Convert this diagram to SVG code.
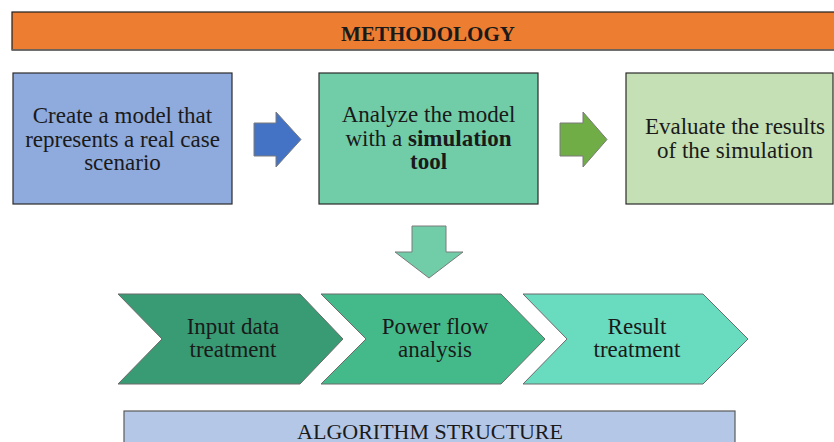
<svg xmlns="http://www.w3.org/2000/svg" width="834" height="442" viewBox="0 0 834 442">
  <style>
    text { font-family: "Liberation Serif", "DejaVu Serif", serif; font-size: 23px; fill: #1a1a1a; text-anchor: middle; }
    .b { font-weight: bold; }
    .box { stroke: #2b2b2b; stroke-width: 1.2; }
    .arr { stroke: #7a7a7a; stroke-width: 1; }
    .chev { stroke: #6b6b6b; stroke-width: 1; }
  </style>
  <rect width="834" height="442" fill="#ffffff"/>

  <!-- header bar -->
  <g id="methodology">
    <rect x="12" y="12" width="830" height="38" fill="#ED7D31" stroke="#1e1e1e" stroke-width="1.2"/>
    <line x1="12" y1="50" x2="834" y2="50" stroke="#6e6e6e" stroke-width="1.5"/>
    <text class="b" x="428" y="41" style="font-size:21px">METHODOLOGY</text>
  </g>

  <!-- step boxes -->
  <g id="create-model">
    <rect class="box" x="13" y="73" width="219" height="131" fill="#8FAADC"/>
    <text x="122.5" y="123">Create a model that</text>
    <text x="122.5" y="147">represents a real case</text>
    <text x="122.5" y="170">scenario</text>
  </g>

  <g id="analyze-model">
    <rect class="box" x="319" y="73" width="219" height="131" fill="#71CDA8"/>
    <text x="428.5" y="122">Analyze the model</text>
    <text x="428.5" y="146">with a <tspan class="b">simulation</tspan></text>
    <text class="b" x="428.5" y="169">tool</text>
  </g>

  <g id="evaluate-results">
    <rect class="box" x="626" y="73" width="207" height="131" fill="#C5E0B4"/>
    <text x="735" y="134">Evaluate the results</text>
    <text x="735" y="158">of the simulation</text>
  </g>

  <!-- process chevrons -->
  <g id="input-data">
    <polygon class="chev" points="118,294 300,294 343,339 300,384 118,384 162,339" fill="#389B74"/>
    <text x="233" y="334">Input data</text>
    <text x="233" y="357">treatment</text>
  </g>

  <g id="power-flow">
    <polygon class="chev" points="321,294 501,294 545,339 501,384 321,384 366,339" fill="#44BA8B"/>
    <text x="435" y="334">Power flow</text>
    <text x="435" y="357">analysis</text>
  </g>

  <g id="result-treatment">
    <polygon class="chev" points="523,294 703,294 748,339 703,384 523,384 567,339" fill="#69DBBF"/>
    <text x="637" y="334">Result</text>
    <text x="637" y="357">treatment</text>
  </g>

  <!-- footer bar -->
  <g id="algorithm-structure">
    <rect x="124" y="411" width="611" height="40" fill="#B4C7E7" stroke="#5a5a5a" stroke-width="1.2"/>
    <text x="430" y="439" style="font-size:22px">ALGORITHM STRUCTURE</text>
  </g>

  <!-- block arrows between steps -->
  <g id="connectors">
    <polygon class="arr" points="254,123 276,123 276,112 301,139.5 276,167 276,156 254,156" fill="#4472C4"/>
    <polygon class="arr" points="560,123 583,123 583,112 607,139.5 583,167 583,156 560,156" fill="#70AD47"/>
    <polygon class="arr" points="412,226 446,226 446,252 463,252 429,278 395,252 412,252" fill="#71CDA8"/>
  </g>
</svg>
